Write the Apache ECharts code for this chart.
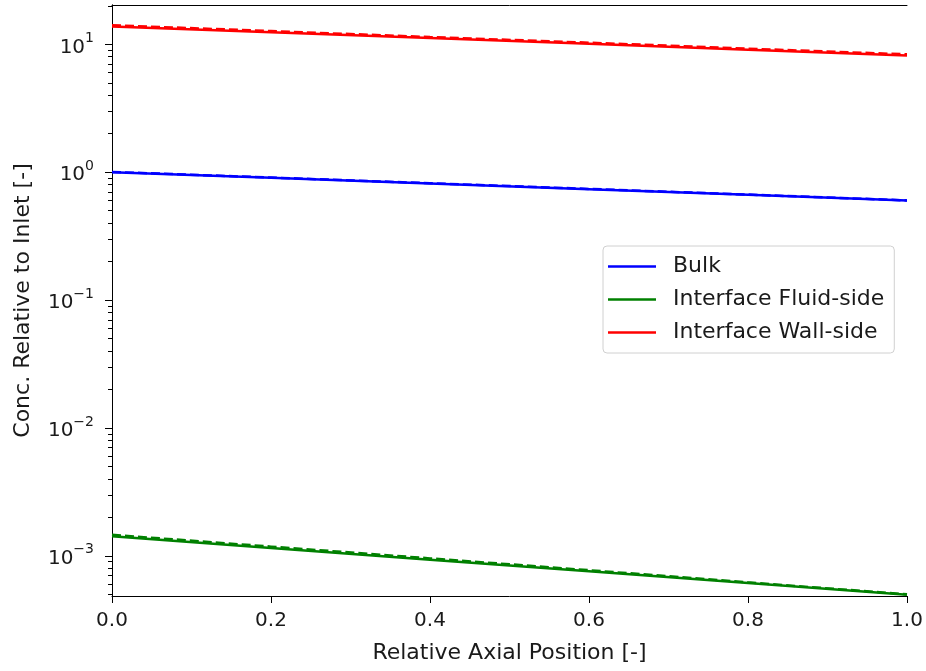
<!DOCTYPE html>
<html>
<head>
<meta charset="utf-8">
<script src="https://cdn.jsdelivr.net/npm/echarts@6/dist/echarts.min.js"></script>
<style>
  html, body { margin: 0; padding: 0; background: #fff; }
  #chart { width: 926px; height: 671px; }
</style>
</head>
<body>
<div id="chart"></div>
<script>
"use strict";
// 轴向位置与各浓度（相对入口），读自原图
var xPos = [0, 0.2, 0.4, 0.6, 0.8, 1.0];
var bulk = [1.0, 0.903, 0.815, 0.736, 0.665, 0.600];
var bulkModel = [1.005, 0.908, 0.82, 0.74, 0.668, 0.602];
var fluidSide = [1.42e-3, 1.151e-3, 9.33e-4, 7.57e-4, 6.12e-4, 4.97e-4];
var fluidSideModel = [1.46e-3, 1.18e-3, 9.55e-4, 7.72e-4, 6.2e-4, 5.0e-4];
var wallSide = [13.8, 12.45, 11.19, 10.09, 9.08, 8.18];
var wallSideModel = [14.1, 12.7, 11.4, 10.3, 9.25, 8.35];

var legendNames = ['Bulk', 'Interface Fluid-side', 'Interface Wall-side'];
var majorTicks = [1e-3, 1e-2, 1e-1, 1, 10];

var minorTicks = [];
[-4, -3, -2, -1, 0, 1].forEach(function (p) {
    for (var k = 2; k <= 9; k++) minorTicks.push(k * Math.pow(10, p));
});

function pairs(ys) {
    return xPos.map(function (x, i) { return [x, ys[i]]; });
}

var font = 'DejaVu Sans';
var txt = '#1a1a1a';

function lineSeries(name, ys, color, dashed) {
    return {
        name: name,
        type: 'line',
        data: pairs(ys),
        showSymbol: false,
        silent: true,
        z: dashed ? 3 : 2,
        itemStyle: { color: color },
        lineStyle: { color: color, width: 2.5, type: dashed ? [9, 4] : 'solid' }
    };
}

function initGraph() {
    var myChart = echarts.init(document.getElementById('chart'));
    var options = {
        animation: false,
        textStyle: { fontFamily: font },
        grid: { left: 112, right: 19, top: 5, bottom: 75 },
        legend: {
            data: legendNames,
            orient: 'vertical',
            left: 603,
            top: 246,
            icon: 'rect',
            itemWidth: 48,
            itemHeight: 2.5,
            itemGap: 8,
            padding: [8, 10, 8, 5],
            backgroundColor: '#fff',
            borderColor: '#d0d0d0',
            borderWidth: 1,
            borderRadius: 4,
            textStyle: { fontFamily: font, fontSize: 22, color: txt, lineHeight: 25, padding: [0, 0, 0, 12] }
        },
        xAxis: [
            {
                type: 'value', min: 0, max: 1, interval: 0.2,
                name: 'Relative Axial Position [-]',
                nameLocation: 'middle', nameGap: 46,
                nameTextStyle: { fontFamily: font, fontSize: 22, color: txt },
                axisLine: { lineStyle: { color: '#000', width: 1 } },
                axisTick: { inside: false, length: 7, lineStyle: { color: '#000' } },
                axisLabel: { fontFamily: font, fontSize: 20, color: txt, margin: 15,
                    formatter: function (v) { return v.toFixed(1); } },
                splitLine: { show: false }
            },
            {
                type: 'value', min: 0, max: 1, position: 'top',
                axisLine: { lineStyle: { color: '#000', width: 1 } },
                axisTick: { show: false }, axisLabel: { show: false }, splitLine: { show: false }
            }
        ],
        yAxis: [
            {
                type: 'log', logBase: 10, min: 4.85e-4, max: 20.3,
                name: 'Conc. Relative to Inlet [-]',
                nameLocation: 'middle', nameGap: 78, nameRotate: 90,
                nameTextStyle: { fontFamily: font, fontSize: 22, color: txt },
                axisLine: { onZero: false, lineStyle: { color: '#000', width: 1 } },
                axisTick: { inside: false, length: 7, customValues: majorTicks, lineStyle: { color: '#000' } },
                axisLabel: {
                    customValues: majorTicks, margin: 18,
                    formatter: function (v) {
                        var k = Math.round(Math.log10(v));
                        return '{b|10}{s|' + String(k).replace('-', '\u2212') + '}';
                    },
                    rich: {
                        b: { fontFamily: font, fontSize: 20, color: txt, lineHeight: 26, verticalAlign: 'bottom' },
                        s: { fontFamily: font, fontSize: 14, color: txt, lineHeight: 16, verticalAlign: 'top' }
                    }
                },
                splitLine: { show: false }
            },
            {
                type: 'log', logBase: 10, min: 4.85e-4, max: 20.3, position: 'left',
                axisLine: { show: false },
                axisTick: { inside: false, length: 4, customValues: minorTicks, lineStyle: { color: '#000' } },
                axisLabel: { show: false }, splitLine: { show: false }
            },
            {
                type: 'log', logBase: 10, min: 4.85e-4, max: 20.3, position: 'right',
                axisLine: { lineStyle: { color: '#000', width: 1 } },
                axisTick: { show: false }, axisLabel: { show: false }, splitLine: { show: false }
            }
        ],
        series: [
            lineSeries('Bulk', bulk, '#0000ff', false),
            lineSeries('Interface Fluid-side', fluidSide, '#008000', false),
            lineSeries('Interface Wall-side', wallSide, '#ff0000', false),
            lineSeries('Bulk model', bulkModel, '#0000ff', true),
            lineSeries('Fluid-side model', fluidSideModel, '#008000', true),
            lineSeries('Wall-side model', wallSideModel, '#ff0000', true)
        ]
    };
    myChart.setOption(options);
    return myChart;
}

var myChart = initGraph();
</script>
</body>
</html>
